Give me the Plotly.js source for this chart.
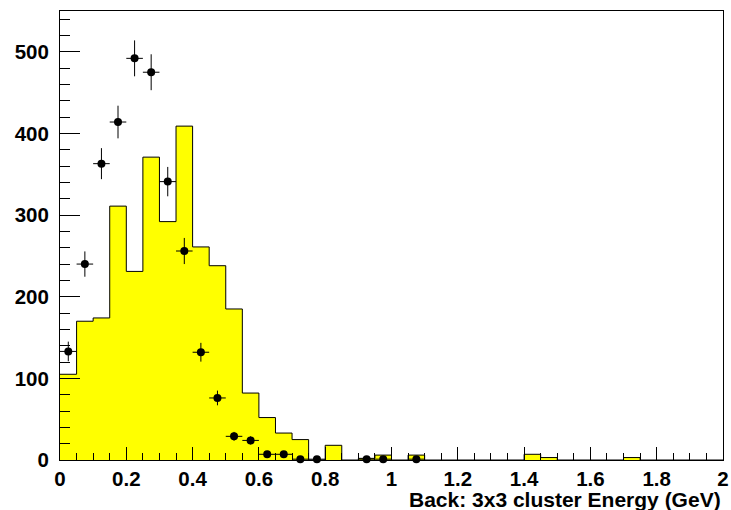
<!DOCTYPE html>
<html>
<head>
<meta charset="utf-8">
<script src="https://cdn.plot.ly/plotly-3.0.1.min.js"></script>
<style>html,body{margin:0;padding:0;background:#fff;}#plot{width:731px;height:510px;}</style>
</head>
<body>
<div id="plot"></div>
<script>
// Histogram (simulation) — bin low edges (GeV) and contents
const binEdges = [0,0.05,0.1,0.15,0.2,0.25,0.3,0.35,0.4,0.45,0.5,0.55,0.6,0.65,0.7,0.75,0.8,0.85,0.9,0.95,
                  1,1.05,1.1,1.15,1.2,1.25,1.3,1.35,1.4,1.45,1.5,1.55,1.6,1.65,1.7,1.75,1.8,1.85,1.9,1.95,2];
const histCounts = [105,170,174,311,231,371,292,409,261,238,185,82,52,33,25,0,18,0,2,6,
                    0,6,0,0,0,0,0,0,7,3,0,0,0,0,3,0,0,0,0,0];

// Data points with errors
const dataX = [0.025,0.075,0.125,0.175,0.225,0.275,0.325,0.375,0.425,0.475,0.525,0.575,0.625,0.675,0.725,0.775,0.925,0.975,1.075];
const dataY = [133,240,363,414,492,475,341,256,132,76,29,24,7,7,1,1,1,1,1];
const dataErr = [12,15.5,19,20,22,22,18,16,11.5,9,5.4,5,2.6,2.6,1,1,1,1,1];
const binHalfWidth = 0.025;

const xTitle = 'Back: 3x3 cluster Energy (GeV)';

const stepY = histCounts.concat([histCounts[histCounts.length - 1]]);

const fam = 'Liberation Sans, Arial, Helvetica, sans-serif';
const tickFont = {family: fam, size: 20.5, color: '#000', weight: 'bold'};
const titleFont = {family: fam, size: 21, color: '#000', weight: 'bold'};

const traces = [
  {
    type: 'scatter', mode: 'lines',
    x: binEdges, y: stepY,
    line: {shape: 'hv', color: '#000', width: 1},
    fill: 'tozeroy', fillcolor: '#ffff00',
    hoverinfo: 'skip', showlegend: false
  },
  {
    type: 'scatter', mode: 'markers',
    x: dataX, y: dataY,
    marker: {color: '#000', size: 8},
    error_y: {type: 'data', array: dataErr, visible: true, color: '#000', thickness: 1, width: 0},
    error_x: {type: 'constant', value: binHalfWidth, visible: true, color: '#000', thickness: 1, width: 0},
    cliponaxis: false, showlegend: false
  }
];

const layout = {
  width: 731, height: 510,
  margin: {l: 60, r: 8, t: 11, b: 50, pad: 0},
  paper_bgcolor: '#fff', plot_bgcolor: '#fff',
  showlegend: false,
  xaxis: {
    range: [0, 2], dtick: 0.2, tick0: 0,
    ticks: 'inside', ticklen: 13, tickwidth: 1, tickcolor: '#000',
    minor: {dtick: 0.05, ticks: 'inside', ticklen: 7, tickwidth: 1, tickcolor: '#000'},
    showline: true, mirror: true, linecolor: '#000', linewidth: 1,
    showgrid: false, zeroline: false,
    tickfont: tickFont, ticklabelstandoff: 0
  },
  yaxis: {
    range: [0, 550], dtick: 100, tick0: 0,
    ticks: 'inside', ticklen: 20, tickwidth: 1, tickcolor: '#000',
    minor: {dtick: 20, ticks: 'inside', ticklen: 10, tickwidth: 1, tickcolor: '#000'},
    showline: true, mirror: true, linecolor: '#000', linewidth: 1,
    showgrid: false, zeroline: false,
    tickfont: tickFont, ticklabelstandoff: 6
  },
  annotations: [{
    text: xTitle, xref: 'paper', yref: 'paper',
    x: 1, xanchor: 'right', y: -0.087, yanchor: 'middle',
    showarrow: false, font: titleFont
  }]
};

Plotly.newPlot('plot', traces, layout, {displayModeBar: false, staticPlot: true});
</script>
</body>
</html>
